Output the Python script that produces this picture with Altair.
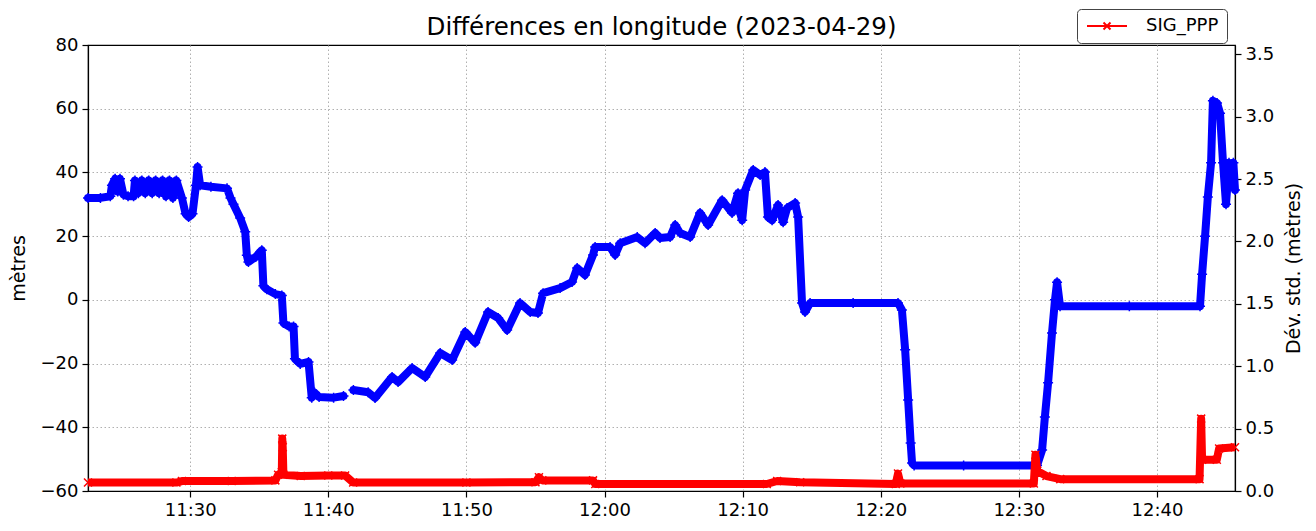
import altair as alt
import pandas as pd

# ---- Data ----
blue_times = [
    "11:22:36", "11:23:30", "11:24:13", "11:24:20", "11:24:34", "11:24:45", "11:24:55", "11:25:10",
    "11:25:30", "11:25:54", "11:26:00", "11:26:15", "11:26:30", "11:26:45", "11:27:00", "11:27:15",
    "11:27:30", "11:27:45", "11:28:00", "11:28:15", "11:28:30", "11:28:45", "11:29:00", "11:29:24",
    "11:29:40", "11:29:53", "11:30:10", "11:30:25", "11:30:32", "11:30:43", "11:31:30", "11:32:40",
    "11:32:55", "11:33:08", "11:33:37", "11:33:59", "11:34:06", "11:34:13", "11:34:45", "11:35:11",
    "11:35:18", "11:35:33", "11:36:10", "11:36:38", "11:36:45", "11:37:10", "11:37:29", "11:37:35",
    "11:37:58", "11:38:34", "11:38:48", "11:39:00", "11:39:20", "11:40:23", "11:41:06",
    "11:41:49", "11:42:53", "11:43:23", "11:44:37", "11:45:03", "11:46:04", "11:47:01", "11:48:06",
    "11:48:58", "11:49:55", "11:50:38", "11:51:34", "11:52:18", "11:52:57", "11:53:53", "11:54:37",
    "11:55:11", "11:55:33", "11:56:47", "11:57:39", "11:58:01", "11:58:35", "11:59:10", "11:59:19",
    "12:00:24", "12:00:46", "12:01:08", "12:02:22", "12:02:56", "12:03:40", "12:04:01", "12:04:45",
    "12:05:07", "12:05:28", "12:06:12", "12:06:55", "12:07:30", "12:08:31", "12:09:14", "12:09:40",
    "12:09:50", "12:09:58", "12:10:11", "12:10:46", "12:11:16", "12:11:37", "12:11:50", "12:12:08",
    "12:12:34", "12:12:56", "12:13:13", "12:13:48", "12:14:01", "12:14:18", "12:14:31", "12:14:53",
    "12:18:00", "12:21:15", "12:21:32", "12:21:46", "12:21:59", "12:22:10", "12:22:16", "12:22:25",
    "12:26:00", "12:31:19", "12:31:41", "12:31:53", "12:32:07", "12:32:24", "12:32:37", "12:32:46",
    "12:32:59", "12:38:00", "12:43:07", "12:43:16", "12:43:29", "12:43:41", "12:43:55", "12:44:03",
    "12:44:21", "12:44:34", "12:44:47", "12:45:00", "12:45:13", "12:45:26", "12:45:32", "12:45:39",
]
blue_vals = [
    32, 32, 32.5, 36, 38, 34, 38, 33,
    32.5, 32.5, 37.5, 33.5, 37.5, 33.5, 37.5, 33.5,
    37.5, 33.5, 37.5, 32.5, 37.5, 32, 37.5, 32,
    27, 26, 27, 36, 41.7, 36, 35.5, 35,
    32, 30, 25.7, 21.4, 14, 11.9, 13.5, 15.6,
    4.4, 3.3, 1.8, 1.4, -7.3, -8.4, -8.4, -18.5,
    -20.1, -19.5, -30.7, -29.1, -30.5, -30.7, -30.2,
    -28.3, -29, -30.8, -24.2, -25.8, -21.4, -24.2, -16.7,
    -18.9, -10.1, -13.5, -3.8, -5.7, -9.5, -1.0, -3.8,
    -4.1, 2.1, 3.7, 5.6, 10, 7.8, 14.1, 16.6,
    16.6, 14.1, 17.8, 19.7, 17.8, 21, 19.4, 19.7,
    23.5, 21, 19.7, 27.3, 23.5, 31.3, 27.3, 33.5,
    27, 25, 34.5, 40.8, 39.2, 40.1, 26, 25,
    29.8, 24.4, 28.8, 30.4, 26, -1, -3.8, -1,
    -1, -1, -3.2, -15.7, -31.4, -44.9, -51.2, -52,
    -52, -52, -47.1, -36.8, -26, -10.4, 0, 5.5,
    -2, -2, -2, 8, 20, 32.3, 43, 62.5,
    61.8, 58.6, 43, 30, 43, 37.6, 43, 34.5,
]
# path segment (the blue trace has a gap around 11:41)
blue_segs = [1] * 55 + [2] * (len(blue_times) - 55)

red_times = [
    "11:22:36", "11:29:00", "11:29:24", "11:33:00", "11:36:10", "11:36:22", "11:36:38", "11:36:40",
    "11:36:42", "11:36:45", "11:38:00", "11:40:00", "11:41:13", "11:41:48", "11:50:00", "11:55:00",
    "11:55:15", "11:55:30", "11:59:10", "11:59:20", "12:11:45", "12:12:30", "12:14:10", "12:21:05",
    "12:21:15", "12:21:25", "12:31:05", "12:31:12", "12:31:20", "12:32:00", "12:33:00", "12:43:05",
    "12:43:12", "12:43:16", "12:44:20", "12:44:30", "12:45:39",
]
red_vals = [
    0.068, 0.068, 0.08, 0.08, 0.085, 0.13, 0.15, 0.42,
    0.35, 0.13, 0.12, 0.125, 0.125, 0.068, 0.068, 0.07,
    0.11, 0.085, 0.085, 0.056, 0.056, 0.08, 0.07, 0.056,
    0.14, 0.06, 0.06, 0.29, 0.16, 0.12, 0.095, 0.095,
    0.58, 0.25, 0.25, 0.34, 0.35,
]

x_tick_labels = ["11:30", "11:40", "11:50", "12:00", "12:10", "12:20", "12:30", "12:40"]
x_range = ["11:22:36", "12:45:39"]
left_ticks = [-60, -40, -20, 0, 20, 40, 60, 80]
right_ticks = [0.0, 0.5, 1.0, 1.5, 2.0, 2.5, 3.0, 3.5]


def to_min(t):
    parts = [int(p) for p in t.split(":")]
    while len(parts) < 3:
        parts.append(0)
    h, m, s = parts
    return h * 60 + m + s / 60.0


blue = pd.DataFrame({"t": [to_min(t) for t in blue_times], "v": blue_vals, "seg": blue_segs})
red = pd.DataFrame({"t": [to_min(t) for t in red_times], "v": red_vals, "serie": "SIG_PPP"})

FONT = "DejaVu Sans"
GRID = dict(grid=True, gridColor="#b0b0b0", gridDash=[1.5, 2.5], gridWidth=1)

xenc = alt.X(
    "t:Q",
    scale=alt.Scale(domain=[to_min(x_range[0]), to_min(x_range[1])], nice=False, zero=False),
    axis=alt.Axis(
        values=[to_min(t) for t in x_tick_labels],
        labelExpr="format(floor(datum.value/60),'02d') + ':' + format(round(datum.value%60),'02d')",
        title=None, tickSize=6, labelPadding=4, **GRID,
    ),
)

yleft = alt.Y(
    "v:Q",
    scale=alt.Scale(domain=[-60, 80], nice=False, zero=False),
    axis=alt.Axis(
        orient="left", values=left_ticks, title="mètres",
        labelExpr="datum.value < 0 ? '−' + format(-datum.value, 'd') : format(datum.value, 'd')",
        tickSize=6, labelPadding=4, titlePadding=12,
        gridOpacity={"condition": {"test": "datum.value >= 80 || datum.value <= -60", "value": 0}, "value": 1},
        **GRID,
    ),
)

yright = alt.Y(
    "v:Q",
    scale=alt.Scale(domain=[0, 3.575], nice=False, zero=True),
    axis=alt.Axis(
        orient="right", values=right_ticks, format=".1f", title="Dév. std. (mètres)",
        titleAngle=270, tickSize=6, labelPadding=4, titlePadding=30, grid=False,
    ),
)

PLUS = "M-1,0L1,0M0,-1L0,1"
CROSS = "M-1,-1L1,1M-1,1L1,-1"
LEGEND_SYMBOL = "M-1.4,0L6.6,0M1.9,-0.7L3.3,0.7M1.9,0.7L3.3,-0.7"

blue_line = alt.Chart(blue).mark_line(
    color="blue", strokeWidth=8, strokeJoin="round", strokeCap="round"
).encode(x=xenc, y=yleft, detail="seg:N")
blue_pts = alt.Chart(blue).mark_point(
    shape=PLUS, filled=False, color="blue", size=100, strokeWidth=1.5, opacity=1
).encode(x=xenc, y=yleft)

red_line = alt.Chart(red).mark_line(
    strokeWidth=8, strokeJoin="round", strokeCap="butt"
).encode(
    x=xenc, y=yright,
    color=alt.Color(
        "serie:N",
        scale=alt.Scale(domain=["SIG_PPP"], range=["red"]),
        legend=alt.Legend(
            title=None, orient="none", legendX=989, legendY=-36,
            symbolType=LEGEND_SYMBOL,
            symbolSize=100, symbolStrokeWidth=2, symbolFillColor="transparent",
            labelFontSize=18, labelFont=FONT, labelColor="black", labelOffset=43,
            padding=8, strokeColor="#444444", fillColor="white", cornerRadius=4,
        ),
    ),
)
red_pts = alt.Chart(red).mark_point(
    shape=CROSS, filled=False, color="red", size=64, strokeWidth=1.5, opacity=1
).encode(x=xenc, y=yright)

chart = alt.layer(
    alt.layer(blue_line, blue_pts),
    alt.layer(red_line, red_pts),
).resolve_scale(y="independent").properties(
    width=1147,
    height=446,
    autosize=alt.AutoSizeParams(type="none"),
    padding={"left": 80, "top": 37, "right": 73, "bottom": 32},
    title=alt.TitleParams(
        "Différences en longitude (2023-04-29)", font=FONT, fontSize=24.5,
        fontWeight="normal", color="black", anchor="middle", offset=9, frame="group",
        dy=41,
    ),
).configure_view(
    stroke="black", strokeWidth=1.2
).configure_axis(
    labelFont=FONT, titleFont=FONT, labelFontSize=18, titleFontSize=19,
    labelColor="black", titleColor="black", titleFontWeight="normal",
    tickColor="black", domainColor="black", domainWidth=1.2, tickWidth=1.2,
)

chart.save("out.html", embed_options={"renderer": "svg", "actions": False})
